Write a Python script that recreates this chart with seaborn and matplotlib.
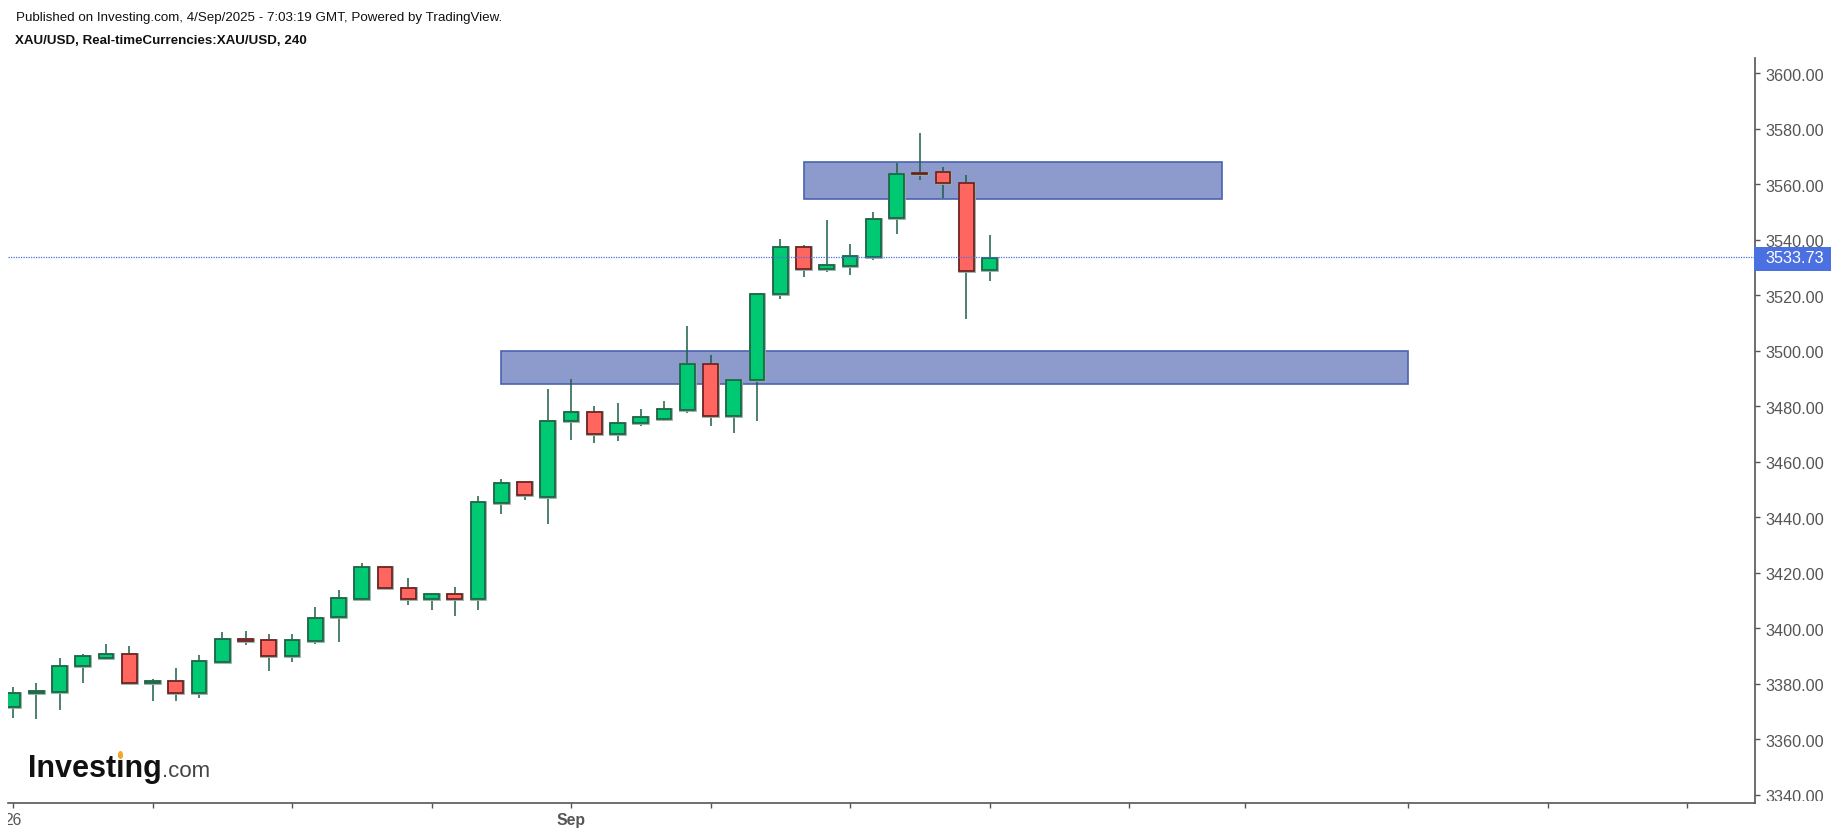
"""
XAU/USD 4h candles with two supply/demand zones (Investing.com / TradingView look)
"""

import numpy as np
import pandas as pd
import matplotlib
matplotlib.use("Agg")
import matplotlib.pyplot as plt
import matplotlib.patheffects as pe
import seaborn as sns
from matplotlib.patches import Rectangle, Ellipse
from matplotlib.transforms import Affine2D, Bbox, IdentityTransform, TransformedBbox

W, H = 1838, 836

opens = [3371.6, 3376.5, 3377.0, 3386.2, 3389.4, 3390.7, 3380.3, 3381.1, 3376.5, 3387.8, 3396.2,
         3395.6, 3390.0, 3395.3, 3404.0, 3410.5, 3422.2, 3414.6, 3410.5, 3412.4, 3410.5, 3445.2,
         3452.8, 3447.4, 3474.5, 3477.8, 3470.1, 3473.9, 3475.4, 3478.7, 3495.1, 3476.6, 3489.6,
         3520.4, 3537.3, 3529.6, 3530.7, 3533.8, 3547.9, 3564.0, 3564.3, 3560.6, 3529.0]
closes = [3376.8, 3377.3, 3386.5, 3389.8, 3390.8, 3380.3, 3381.1, 3376.5, 3388.1, 3396.2, 3395.3,
          3390.0, 3395.6, 3403.8, 3410.8, 3422.2, 3414.4, 3410.5, 3412.4, 3410.5, 3445.4, 3452.4,
          3447.9, 3474.6, 3477.8, 3470.1, 3474.0, 3476.1, 3478.9, 3495.1, 3476.6, 3489.6, 3520.5,
          3537.3, 3529.6, 3530.8, 3534.1, 3547.5, 3563.7, 3563.6, 3560.4, 3528.9, 3533.5]
highs = [3378.9, 3380.1, 3389.2, 3390.8, 3394.2, 3393.6, 3381.6, 3385.5, 3390.4, 3398.5, 3398.9,
         3397.8, 3397.8, 3407.5, 3413.6, 3423.4, 3422.3, 3418.0, 3412.6, 3414.7, 3447.5, 3453.7,
         3452.8, 3486.1, 3489.7, 3480.0, 3481.1, 3479.0, 3481.8, 3508.9, 3498.5, 3489.6, 3520.7,
         3540.2, 3538.0, 3547.2, 3538.5, 3549.9, 3567.8, 3578.5, 3566.1, 3563.4, 3541.8]
lows = [3367.8, 3367.2, 3370.4, 3380.1, 3388.7, 3380.3, 3373.7, 3373.7, 3374.8, 3387.6, 3394.1,
        3384.5, 3387.7, 3394.2, 3395.1, 3409.9, 3414.4, 3408.2, 3406.7, 3404.5, 3406.7, 3441.3,
        3446.1, 3437.5, 3467.7, 3466.7, 3467.3, 3472.7, 3474.8, 3477.5, 3472.7, 3470.5, 3474.8,
        3518.6, 3526.7, 3528.3, 3527.2, 3532.6, 3541.9, 3561.7, 3554.9, 3511.6, 3525.1]

last_price = 3533.73
zone_upper = (34, 52, 3554.8, 3568.0)
zone_lower = (21, 60, 3487.9, 3499.9)

price_ticks = list(range(3340, 3601, 20))
time_ticks = [0, 6, 12, 18, 24, 30, 36, 42, 48, 53, 60, 66, 72]
time_labels = {0: "26", 24: "Sep"}

GREEN = "#00c974"
GREEN_EDGE = "#1d5f43"
RED = "#ff6660"
RED_EDGE = "#6a1c1c"
AXIS = "#555555"
ZONE = "#8c9bcb"
ZONE_EDGE = "#4a63b0"
BLUE = "#4a70e2"

sns.set_theme(style="white")
plt.rcParams["font.family"] = ["Liberation Sans", "DejaVu Sans"]

df = pd.DataFrame({"bar": np.arange(len(opens)), "open": opens, "close": closes,
                   "high": highs, "low": lows})
df["bottom"] = df[["open", "close"]].min(axis=1)
df["height"] = (df["close"] - df["open"]).abs()

fig = plt.figure(figsize=(W / 100, H / 100), dpi=100, facecolor="white")
ax = fig.add_axes([8 / W, 1 - 803 / H, (1755 - 8) / W, (803 - 58) / H])


def fig_x(px):
    return px / W


def fig_y(py):
    return 1 - py / H


# zones go under the candles
for x0, x1, y0, y1 in (zone_upper, zone_lower):
    ax.add_patch(Rectangle((x0, y0), x1 - x0, y1 - y0, facecolor=ZONE, edgecolor=ZONE_EDGE,
                           linewidth=1.2, zorder=1))

# wicks
wicks = df.melt(id_vars="bar", value_vars=["high", "low"], value_name="price")
sns.lineplot(data=wicks, x="bar", y="price", units="bar", estimator=None, color=GREEN_EDGE,
             linewidth=1.1, legend=False, ax=ax, zorder=2, solid_capstyle="butt")

# bodies, with the soft halo the screenshot has around them
halo = [pe.Stroke(linewidth=2.0, foreground="#8fb0a2"), pe.Normal()]
for is_up, fill, edge in ((True, GREEN, GREEN_EDGE), (False, RED, RED_EDGE)):
    sub = df[(df["close"] >= df["open"]) == is_up].sort_values("bar")
    sns.barplot(data=sub, x="bar", y="height", bottom=sub["bottom"].to_numpy(), native_scale=True,
                errorbar=None, color=fill, saturation=1, width=0.64, edgecolor=edge,
                linewidth=1.2, ax=ax, zorder=3, path_effects=halo)

ax.axhline(last_price, color=BLUE, linestyle=(0, (1, 1)), linewidth=0.9, zorder=4)

ax.set_xlim(-0.215, 74.92)
ax.set_ylim(3337.0, 3605.5)
ax.set_xlabel("")
ax.set_ylabel("")

ax.yaxis.tick_right()
ax.set_yticks(price_ticks)
ax.set_yticklabels([f"{p:.2f}" for p in price_ticks])
ax.set_xticks(time_ticks)
ax.set_xticklabels([time_labels.get(t, "") for t in time_ticks])

ax.tick_params(axis="y", length=3.4, width=1, color=AXIS, labelcolor=AXIS, labelsize=11.7, pad=3.8,
               left=False, right=True, labelleft=False, labelright=True)
ax.tick_params(axis="x", length=3.4, width=1, color=AXIS, labelcolor=AXIS, labelsize=11.3, pad=3.6,
               bottom=True)

for side in ("top", "left"):
    ax.spines[side].set_visible(False)
for side in ("right", "bottom"):
    ax.spines[side].set_color(AXIS)
    ax.spines[side].set_linewidth(1.2)

# "26" is cut by the left edge of the pane, 3340.00 by the bottom one
clip_x = TransformedBbox(Bbox([[8, 0], [W, H]]), IdentityTransform())
clip_y = TransformedBbox(Bbox([[0, H - 801], [W, H]]), IdentityTransform())
for lab in ax.get_xticklabels():
    lab.set_clip_on(True)
    lab.set_clip_box(clip_x)
    if lab.get_text() == "Sep":
        lab.set_fontweight("bold")
for lab in ax.get_yticklabels():
    lab.set_transform(lab.get_transform() + Affine2D().translate(0, -1.5))
    lab.set_clip_on(True)
    lab.set_clip_box(clip_y)

# last price tag
fig.add_artist(Rectangle((fig_x(1754), fig_y(270.7)), 77 / W, 23.7 / H, transform=fig.transFigure,
                         facecolor=BLUE, edgecolor="none", zorder=5))
fig.text(fig_x(1765), fig_y(259), f"{last_price:.2f}", color="white", fontsize=11.7,
         ha="left", va="center", zorder=6)

# header
fig.text(fig_x(16), fig_y(17.5), "Published on Investing.com, 4/Sep/2025 - 7:03:19 GMT, Powered by TradingView.",
         color="#111111", fontsize=9.6, ha="left", va="center")
fig.text(fig_x(15), fig_y(40.5), "XAU/USD, Real-timeCurrencies:XAU/USD, 240",
         color="#111111", fontsize=9.6, fontweight="bold", ha="left", va="center")

# logo
fig.text(fig_x(27.5), fig_y(777), "Investing", color="#111111", fontsize=22, fontweight="bold",
         ha="left", va="baseline")
fig.text(fig_x(162), fig_y(777), ".com", color="#444444", fontsize=16, ha="left", va="baseline")
fig.add_artist(Ellipse((fig_x(120.5), fig_y(755)), 5 / W, 8 / H, angle=0, transform=fig.transFigure,
                       facecolor="#f5a623", edgecolor="none", zorder=5))

fig.savefig("out.png", dpi=100, facecolor="white")
